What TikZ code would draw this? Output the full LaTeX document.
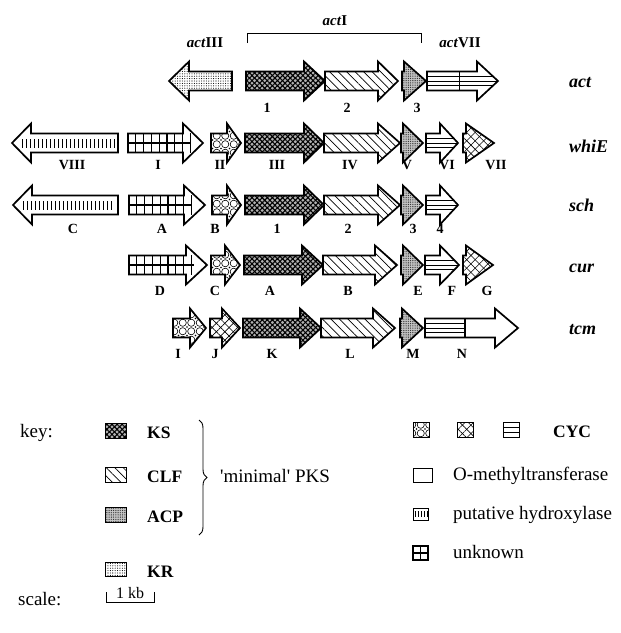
\documentclass[tikz,border=0pt]{standalone}
\usepackage{fontspec}
\setmainfont{Liberation Serif}
\usetikzlibrary{patterns,patterns.meta,decorations.pathreplacing}

\pgfdeclarepatternformonly{rings}{\pgfqpoint{-1pt}{-1pt}}{\pgfqpoint{10pt}{10pt}}{\pgfqpoint{8.5pt}{8.5pt}}{%
  \pgfsetlinewidth{0.6pt}%
  \pgfpathcircle{\pgfqpoint{4.25pt}{4.25pt}}{3.6pt}\pgfusepath{stroke}%
  \pgfpathcircle{\pgfqpoint{0pt}{0pt}}{0.8pt}\pgfusepath{fill}}

\tikzset{
  gene/.style={draw=black, line width=1.7pt, line join=miter},
  sw/.style={draw=black, line width=1pt},
  ks/.style={fill=black!30,
    postaction={pattern={Lines[angle=45,distance=3.6pt,line width=1.1pt]}},
    postaction={pattern={Lines[angle=-45,distance=3.6pt,line width=1.1pt]}}},
  clf/.style={fill=white, postaction={pattern={Lines[angle=-45,distance=6pt,line width=0.7pt]}}},
  acp/.style={fill=black!22, postaction={pattern={Dots[distance=1.8pt,radius=0.45pt]}}},
  kr/.style={fill=white, postaction={pattern={Dots[distance=2.4pt,radius=0.55pt]}}},
  ring/.style={fill=white, postaction={pattern=rings}},
  cross/.style={fill=white,
    postaction={pattern={Lines[angle=45,distance=6pt,line width=0.6pt]}},
    postaction={pattern={Lines[angle=-45,distance=6pt,line width=0.6pt]}}},
  plain/.style={fill=white},
  glabel/.style={font=\fontsize{14}{16}\selectfont\bfseries, inner sep=0pt, anchor=base},
  rowlabel/.style={font=\fontsize{18}{20}\selectfont\bfseries\itshape, inner sep=0pt, anchor=base west},
  hdr/.style={font=\fontsize{15}{17}\selectfont\bfseries, inner sep=0pt, anchor=base},
  keytext/.style={font=\fontsize{19}{21}\selectfont, inner sep=0pt, anchor=base west},
  keybold/.style={font=\fontsize{17.5}{19}\selectfont\bfseries, inner sep=0pt, anchor=base west},
}

\newcommand\gshape[4]{({#1},{#4-9.5}) -- ({#2},{#4-9.5}) -- ({#2},{#4-19.5}) -- ({#3},{#4}) -- ({#2},{#4+19.5}) -- ({#2},{#4+9.5}) -- ({#1},{#4+9.5}) -- cycle}
\newcommand\gene[6]{%
  \path[#1] \gshape{#2}{#3}{#4}{#5};
  \begin{scope}\clip \gshape{#2}{#3}{#4}{#5}; #6 \end{scope}
  \draw[gene] \gshape{#2}{#3}{#4}{#5};}
\newcommand\tstripes[3]{\foreach \dd in {-4.75,0,4.75}{\draw[line width=0.8pt] ({#1},{#3+(\dd)}) -- ({#2},{#3+(\dd)});}}
\newcommand\tgrid[3]{%
  \begin{scope}\clip ({#1},{#3-9.5}) rectangle ({#2},{#3+9.5});
  \draw[line width=1.2pt] ({#1},{#3}) -- ({#2},{#3});
  \foreach \kk in {1,...,9}{\draw[line width=1.2pt] ({#1+7.8*\kk},{#3-10}) -- ({#1+7.8*\kk},{#3+10});}
  \end{scope}}
\newcommand\thyd[3]{\draw[line width=9pt, dash pattern=on 1pt off 3pt] ({#1},{#3}) -- ({#2},{#3});}

\begin{document}
\begin{tikzpicture}[x=1pt,y=-1pt]
\useasboundingbox (0,0) rectangle (621,633);

% ---------- header ----------
\coordinate (bl) at (247,43);
\coordinate (br) at (421,43);
\draw[line width=0.9pt] (bl) -- (247,33) -- (421,33) -- (br);
\node[hdr] (hI) at (335,25) {\textit{act}I};
\node[hdr] (hIII) at (205,47) {\textit{act}III};
\node[hdr] (hVII) at (460,47) {\textit{act}VII};

% ---------- act ----------
\gene{kr}{232}{189}{169}{81}{}
\gene{ks}{246}{304}{325}{81}{}
\gene{clf}{325}{378}{398}{81}{}
\gene{acp}{402}{404}{426}{81}{}
\gene{plain}{427}{477}{498}{81}{\tstripes{427}{498}{81}\draw[line width=1pt] (459,70) -- (459,92);}
\node[glabel] (a1) at (267,112) {1};
\node[glabel] (a2) at (347,112) {2};
\node[glabel] (a3) at (417,112) {3};
\node[rowlabel] (ract) at (569,87) {act};

% ---------- whiE ----------
\gene{plain}{118}{31}{12}{143}{\thyd{22}{115}{143}}
\gene{plain}{128}{183}{203}{143}{\tgrid{128}{191}{143}}
\gene{ring}{211}{227}{241}{143}{}
\gene{ks}{245}{304}{324}{143}{}
\gene{clf}{324}{378}{400}{143}{}
\gene{acp}{401}{403}{423}{143}{}
\gene{plain}{426}{440}{458}{143}{\tstripes{426}{458}{143}}
\gene{cross}{463}{466}{494}{143}{}
\node[glabel] (w8) at (72,169) {VIII};
\node[glabel] (w1) at (158,169) {I};
\node[glabel] (w2) at (220,169) {II};
\node[glabel] (w3) at (277,169) {III};
\node[glabel] (w4) at (350,169) {IV};
\node[glabel] (w5) at (407,169) {V};
\node[glabel] (w6) at (447,169) {VI};
\node[glabel] (w7) at (496,169) {VII};
\node[rowlabel] (rwhie) at (569,152) {whiE};

% ---------- sch ----------
\gene{plain}{118}{32}{13}{205}{\thyd{23}{115}{205}}
\gene{plain}{129}{184}{205}{205}{\tgrid{129}{192}{205}}
\gene{ring}{212}{227}{241}{205}{}
\gene{ks}{245}{304}{324}{205}{}
\gene{clf}{324}{378}{400}{205}{}
\gene{acp}{401}{403}{423}{205}{}
\gene{plain}{426}{440}{458}{205}{\tstripes{426}{458}{205}}
\node[glabel] (sC) at (73,233) {C};
\node[glabel] (sA) at (162,233) {A};
\node[glabel] (sB) at (215,233) {B};
\node[glabel] (s1) at (277,233) {1};
\node[glabel] (s2) at (348,233) {2};
\node[glabel] (s3) at (413,233) {3};
\node[glabel] (s4) at (440,233) {4};
\node[rowlabel] (rsch) at (569,211) {sch};

% ---------- cur ----------
\gene{plain}{129}{186}{207}{265}{\tgrid{129}{194}{265}}
\gene{ring}{211}{225}{240}{265}{}
\gene{ks}{244}{302}{323}{265}{}
\gene{clf}{323}{375}{397}{265}{}
\gene{acp}{401}{403}{423}{265}{}
\gene{plain}{425}{440}{459}{265}{\tstripes{425}{459}{265}}
\gene{cross}{463}{466}{493}{265}{}
\node[glabel] (cD) at (160,295) {D};
\node[glabel] (cC) at (215,295) {C};
\node[glabel] (cA) at (270,295) {A};
\node[glabel] (cB) at (348,295) {B};
\node[glabel] (cE) at (418,295) {E};
\node[glabel] (cF) at (452,295) {F};
\node[glabel] (cG) at (487,295) {G};
\node[rowlabel] (rcur) at (569,272) {cur};

% ---------- tcm ----------
\gene{ring}{173}{190}{206}{328}{}
\gene{cross}{210}{222}{240}{328}{}
\gene{ks}{243}{300}{321}{328}{}
\gene{clf}{321}{373}{395}{328}{}
\gene{acp}{400}{402}{423}{328}{}
\gene{plain}{425}{495}{518}{328}{\tstripes{425}{465}{328}\draw[line width=1.2pt] (465,318.5) -- (465,337.5);}
\node[glabel] (tI) at (178,358) {I};
\node[glabel] (tJ) at (215,358) {J};
\node[glabel] (tK) at (272,358) {K};
\node[glabel] (tL) at (350,358) {L};
\node[glabel] (tM) at (413,358) {M};
\node[glabel] (tN) at (462,358) {N};
\node[rowlabel] (rtcm) at (569,334) {tcm};

% ---------- key, left ----------
\node[keytext] (key) at (20,437) {key:};
\path[ks] (105,423) rectangle (126,438); \draw[sw] (105,423) rectangle (126,438);
\path[clf] (105,467) rectangle (126,482); \draw[sw] (105,467) rectangle (126,482);
\path[acp] (105,507) rectangle (126,522); \draw[sw] (105,507) rectangle (126,522);
\path[kr] (105,562) rectangle (126,576); \draw[sw] (105,562) rectangle (126,576);
\node[keybold] (kKS) at (147,438) {KS};
\node[keybold] (kCLF) at (147,482) {CLF};
\node[keybold] (kACP) at (147,522) {ACP};
\node[keybold] (kKR) at (147,577) {KR};
\draw[line width=0.9pt, decorate, decoration={brace, amplitude=8pt}] (199,420) -- (199,535);
\node[keytext] (kmin) at (220,482) {\textquotesingle minimal\textquotesingle\ PKS};

% ---------- key, right ----------
\path[ring] (413,422) rectangle (429,437); \draw[sw] (413,422) rectangle (429,437);
\path[cross] (457,422) rectangle (473,437); \draw[sw] (457,422) rectangle (473,437);
\path[plain] (503,422) rectangle (519,437);
\draw[line width=0.8pt] (503,427) -- (519,427) (503,432) -- (519,432);
\draw[sw] (503,422) rectangle (519,437);
\node[keybold] (kCYC) at (553,437) {CYC};
\draw[sw, fill=white] (413,468) rectangle (432,482);
\node[keytext] (kOM) at (453,480) {O-methyltransferase};
\begin{scope}\clip (413,508) rectangle (428,520);
\draw[line width=6pt, dash pattern=on 1pt off 2.2pt] (414.5,514) -- (428,514);
\end{scope}
\draw[sw] (413,508) rectangle (428,520);
\node[keytext] (kHY) at (453,519) {putative hydroxylase};
\draw[line width=1.2pt] (413,546) rectangle (428,560) (420.5,546) -- (420.5,560) (413,553) -- (428,553);
\node[keytext] (kUN) at (453,558) {unknown};

% ---------- scale ----------
\node[keytext] (kscale) at (18,605) {scale:};
\coordinate (sl) at (106,592);
\coordinate (sr) at (154,592);
\draw[line width=0.9pt] (sl) -- (106,602) -- (154,602) -- (sr);
\node[font=\fontsize{16}{18}\selectfont, inner sep=0pt, anchor=base] (kb) at (130,598) {1 kb};
\end{tikzpicture}
\end{document}
